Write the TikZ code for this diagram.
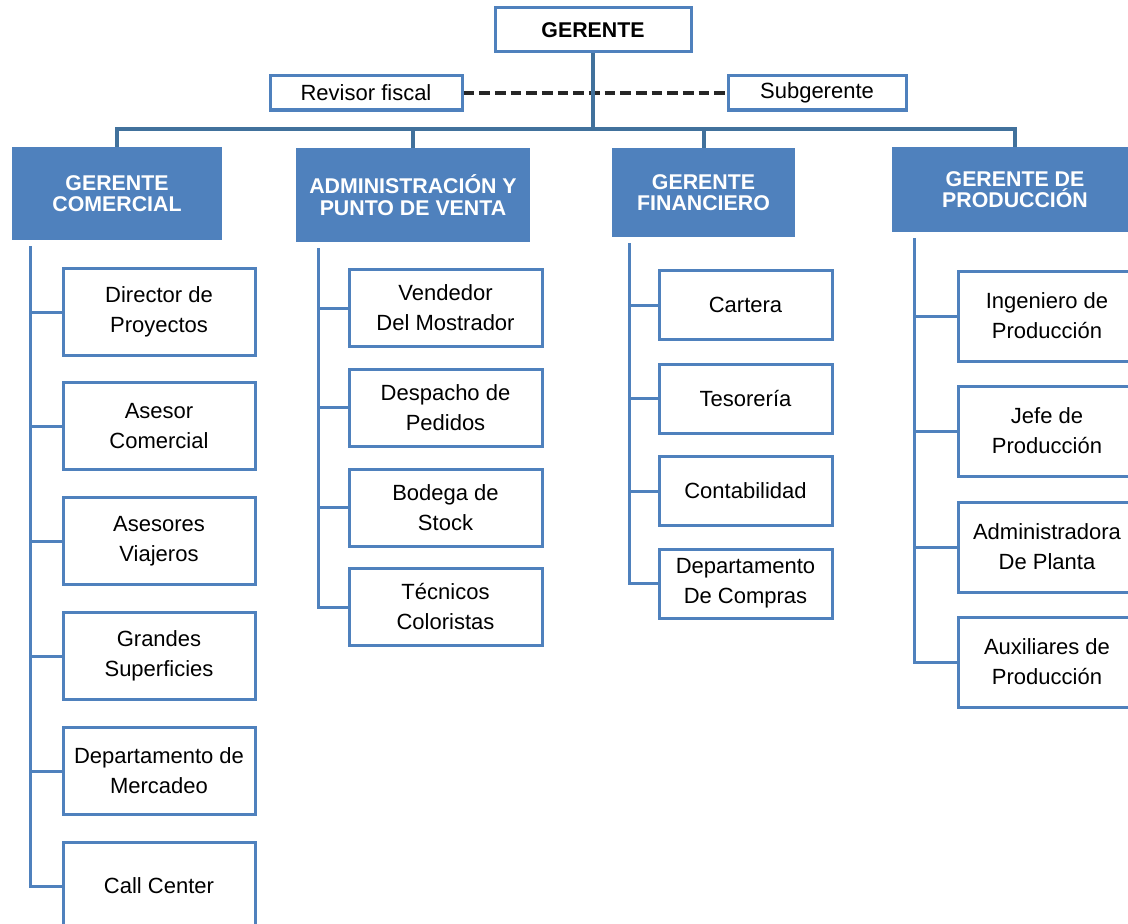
\documentclass[tikz,border=0pt]{standalone}
\usepackage{fontspec}
\setmainfont{Liberation Sans}
\definecolor{hblue}{HTML}{4F81BD}
\definecolor{tblue}{HTML}{41719C}
\begin{document}
\begin{tikzpicture}[x=0.75pt,y=-0.75pt,
  sz/.style 2 args={minimum width=#1*0.75pt,minimum height=#2*0.75pt},
  box/.style={draw=hblue,line width=2.25pt,fill=white,align=center,inner sep=0pt,
    font=\fontsize{16.5}{22.5}\selectfont},
  head/.style={fill=hblue,text=white,align=center,inner sep=0pt,
    font=\bfseries\fontsize{16}{16}\selectfont},
  conn/.style={draw=hblue,line width=2.25pt},
  trunk/.style={draw=tblue,line width=3pt},
  dashline/.style={draw=black!85,line width=2.5pt,dash pattern=on 8pt off 3.75pt}]
\fill[white] (0,0) rectangle (1128,924);
\useasboundingbox (0,0) rectangle (1128,924);
\clip (0,0) rectangle (1128,924);

% top level
\node[box,sz={196}{44},font=\bfseries\fontsize{16}{16}\selectfont] (ger) at (593,30) {GERENTE};
\node[box,sz={192}{34}] (rev) at (366,93) {Revisor fiscal};
\node[box,sz={178}{34}] (sub) at (817,93) {Subgerente};
\coordinate (bar) at (593,129);

% headers
\node[head,sz={210}{93}] (h1) at (117,193.5) {GERENTE\\COMERCIAL};
\node[head,sz={234}{94}] (h2) at (413,195) {ADMINISTRACIÓN Y\\PUNTO DE VENTA};
\node[head,sz={183}{89}] (h3) at (703.5,192.5) {GERENTE\\FINANCIERO};
\node[head,sz={246}{85}] (h4) at (1015,189.5) {GERENTE DE\\PRODUCCIÓN};

% column 1
\node[box,sz={192}{87}] (a1) at (159,312) {Director de\\Proyectos};
\node[box,sz={192}{87}] (a2) at (159,426) {Asesor\\Comercial};
\node[box,sz={192}{87}] (a3) at (159,541) {Asesores\\Viajeros};
\node[box,sz={192}{87}] (a4) at (159,656) {Grandes\\Superficies};
\node[box,sz={192}{87}] (a5) at (159,771) {Departamento de\\Mercadeo};
\node[box,sz={192}{87}] (a6) at (159,886) {Call Center};

% column 2
\node[box,sz={193}{77}] (b1) at (445.5,308) {Vendedor\\Del Mostrador};
\node[box,sz={193}{77}] (b2) at (445.5,407.5) {Despacho de\\Pedidos};
\node[box,sz={193}{77}] (b3) at (445.5,507.5) {Bodega de\\Stock};
\node[box,sz={193}{77}] (b4) at (445.5,607) {Técnicos\\Coloristas};

% column 3
\node[box,sz={173}{69}] (c1) at (745.5,305) {Cartera};
\node[box,sz={173}{69}] (c2) at (745.5,398.5) {Tesorería};
\node[box,sz={173}{69}] (c3) at (745.5,491) {Contabilidad};
\node[box,sz={173}{69}] (c4) at (745.5,583.5) {Departamento\\De Compras};

% column 4
\node[box,sz={178}{90}] (d1) at (1047,316) {Ingeniero de\\Producción};
\node[box,sz={178}{90}] (d2) at (1047,431) {Jefe de\\Producción};
\node[box,sz={178}{90}] (d3) at (1047,547) {Administradora\\De Planta};
\node[box,sz={178}{90}] (d4) at (1047,662) {Auxiliares de\\Producción};

% dashed staff line
\draw[dashline] (rev.east) -- (sub.west);

% trunk
\draw[trunk] (ger.south) -- (bar);
\draw[trunk] (h1.north) -- (h1.north |- bar) -- (h4.north |- bar) -- (h4.north);
\draw[trunk] (h2.north) -- (h2.north |- bar);
\draw[trunk] (h3.north) -- (h3.north |- bar);

% column spines
\coordinate (v1) at (30,246);
\coordinate (v2) at (318,248);
\coordinate (v3) at (629,243);
\coordinate (v4) at (914,238);
\foreach \n in {a1,a2,a3,a4,a5,a6} \draw[conn] (v1) |- (\n.west);
\foreach \n in {b1,b2,b3,b4} \draw[conn] (v2) |- (\n.west);
\foreach \n in {c1,c2,c3,c4} \draw[conn] (v3) |- (\n.west);
\foreach \n in {d1,d2,d3,d4} \draw[conn] (v4) |- (\n.west);
\end{tikzpicture}
\end{document}
